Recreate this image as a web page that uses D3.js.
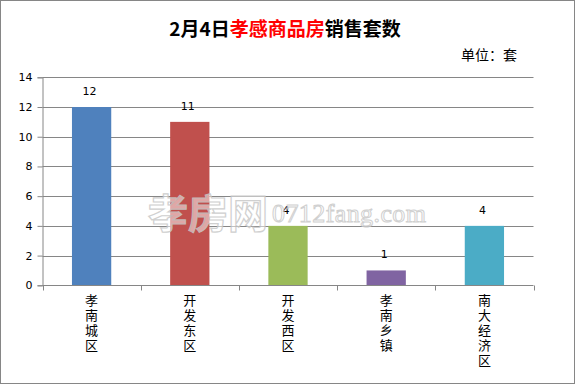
<!DOCTYPE html>
<html><head><meta charset="utf-8">
<script src="https://cdn.jsdelivr.net/npm/d3@7"></script>
<style>html,body{margin:0;padding:0;background:#fff;}svg{display:block;}</style>
</head><body>
<svg id="c" width="576" height="385"></svg>
<script>
const categories = ["孝南城区","开发东区","开发西区","孝南乡镇","南大经济区"];
const values = [12, 11, 4, 1, 4];
const colors = ["#4F81BD","#C0504D","#9BBB59","#8064A2","#4BACC6"];
const yTicks = [0,2,4,6,8,10,12,14];
const titleParts = [{t:"2月4日",c:"#000"},{t:"孝感商品房",c:"#FF0000"},{t:"销售套数",c:"#000"}];
const unitText = "单位：套";

(function(){
const svg = d3.select("#c");
const W = 576, H = 385;
const pLeft = 42.5, pRight = 533.5, pTop = 77.3, pBottom = 285.3;
const grid = "#868686";

svg.append("rect").attr("x",0.5).attr("y",0.5).attr("width",W-2).attr("height",H-2)
  .attr("fill","#fff").attr("stroke",grid).attr("stroke-width",1);

const x = d3.scaleBand().domain(categories).range([pLeft,pRight]).padding(0);
const y = d3.scaleLinear().domain([0,14]).range([pBottom,pTop]);

// gridlines
svg.append("g").selectAll("line").data(yTicks.filter(d=>d>0)).join("line")
  .attr("x1",pLeft).attr("x2",pRight)
  .attr("y1",d=>Math.round(y(d))+0.5).attr("y2",d=>Math.round(y(d))+0.5)
  .attr("stroke",grid).attr("stroke-width",1);

// y axis
const yAxis = d3.axisLeft(y).tickValues(yTicks).tickSize(5).tickPadding(5).tickFormat(d3.format("d"));
const gy = svg.append("g").attr("transform",`translate(${pLeft},0)`).call(yAxis);
gy.select(".domain").attr("stroke",grid);
gy.selectAll(".tick line").attr("stroke",grid);
gy.selectAll(".tick text").attr("font-family","Tahoma, 'DejaVu Sans', sans-serif").attr("font-size",11).attr("fill","#000");

// bars
const bw = x.bandwidth()/2.5;
svg.append("g").selectAll("rect").data(categories).join("rect")
  .attr("x",(d)=>x(d)+x.bandwidth()/2-bw/2)
  .attr("width",bw)
  .attr("y",(d,i)=>y(values[i]))
  .attr("height",(d,i)=>y(0)-y(values[i]))
  .attr("fill",(d,i)=>colors[i]);

// x axis
const xAxisY = Math.round(y(0))+0.5;
svg.append("line").attr("x1",pLeft).attr("x2",pRight).attr("y1",xAxisY).attr("y2",xAxisY).attr("stroke",grid);
const bounds = categories.map(d=>x(d)).concat([pRight]);
svg.append("g").selectAll("line").data(bounds).join("line")
  .attr("x1",d=>Math.round(d)+0.5).attr("x2",d=>Math.round(d)+0.5)
  .attr("y1",xAxisY).attr("y2",xAxisY+5).attr("stroke",grid);

// category labels: characters stacked vertically
const cl = svg.append("g");
categories.forEach((c)=>{
  const cx = x(c)+x.bandwidth()/2;
  Array.from(c).forEach((ch,j)=>{
    cl.append("text").attr("x",cx).attr("y",305+j*15).attr("text-anchor","middle")
      .attr("font-family","'Noto Sans CJK SC', sans-serif").attr("font-size",13).attr("fill","#000").text(ch);
  });
});

// data labels
svg.append("g").selectAll("text").data(categories).join("text")
  .attr("x",d=>x(d)+x.bandwidth()/2-2)
  .attr("y",(d,i)=>y(values[i])-12)
  .attr("text-anchor","middle")
  .attr("font-family","Tahoma, 'DejaVu Sans', sans-serif").attr("font-size",11).attr("fill","#000")
  .text((d,i)=>values[i]);

// title
const tt = svg.append("text").attr("x",285).attr("y",36).attr("text-anchor","middle")
  .attr("font-family","'Noto Sans CJK SC', sans-serif").attr("font-size",19).attr("font-weight","bold");
titleParts.forEach(p=>tt.append("tspan").attr("fill",p.c).text(p.t));

svg.append("text").attr("x",489).attr("y",60).attr("text-anchor","middle")
  .attr("font-family","'Noto Sans CJK SC', sans-serif").attr("font-size",14).attr("fill","#000").text(unitText);

// watermark
const wm = svg.append("g").attr("opacity",0.85);
wm.append("text").attr("x",148).attr("y",228)
  .attr("font-family","'Noto Sans CJK SC', sans-serif").attr("font-size",40).attr("font-weight","bold")
  .attr("fill","rgba(255,255,255,0.6)").attr("stroke","#c8c8c8").attr("stroke-width",1.2).text("孝房网");
wm.append("text").attr("x",272).attr("y",222)
  .attr("font-family","'Liberation Serif', serif").attr("font-size",26)
  .attr("fill","rgba(255,255,255,0.6)").attr("stroke","#c8c8c8").attr("stroke-width",1).attr("textLength",154).text("0712fang.com");
})();
</script>
</body></html>
